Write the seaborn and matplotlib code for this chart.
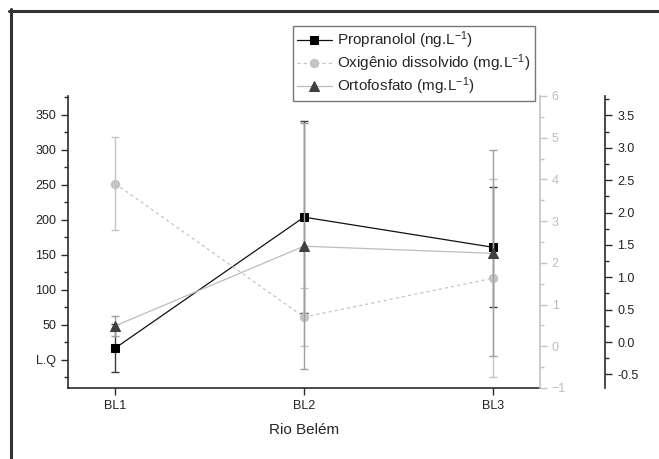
import matplotlib
matplotlib.use("Agg")
import matplotlib.pyplot as plt
from matplotlib.ticker import MultipleLocator, FixedLocator, FixedFormatter, FormatStrFormatter
from matplotlib.lines import Line2D
import seaborn as sns
import pandas as pd

# ---- data ----
sites = ["BL1", "BL2", "BL3"]
propranolol = [17, 204, 161]
propranolol_err = [34, 137, 86]
oxigenio = [3.9, 0.7, 1.63]
oxigenio_err = [1.12, 0.7, 2.37]
ortofosfato = [0.25, 1.48, 1.37]
ortofosfato_err = [0.15, 1.9, 1.59]

left_ticks = [0, 50, 100, 150, 200, 250, 300, 350]
left_labels = ["L.Q", "50", "100", "150", "200", "250", "300", "350"]

sns.set_style("ticks")
plt.rcParams["font.family"] = ["Liberation Sans", "DejaVu Sans"]
plt.rcParams["mathtext.fontset"] = "custom"
plt.rcParams["mathtext.rm"] = "Liberation Sans"
plt.rcParams["mathtext.it"] = "Liberation Sans:italic"

df = pd.DataFrame({"site": sites, "prop": propranolol, "oxi": oxigenio, "orto": ortofosfato})
pos = list(range(len(sites)))

W, H = 659, 459
fig = plt.figure(figsize=(W / 100, H / 100), dpi=100)
ax = fig.add_axes([68 / W, 1 - 388 / H, (540 - 68) / W, (388 - 96) / H])

dark = "#2b2b2b"
light = "#c4c4c4"
mid = "#9f9f9f"

# propranolol (left axis)
ax.errorbar(pos, propranolol, yerr=propranolol_err, fmt="none", ecolor="#3c3c3c",
            elinewidth=1.0, capsize=3, capthick=1.0, zorder=1)
sns.lineplot(data=df, x="site", y="prop", ax=ax, color="#111111", lw=0.9,
             marker="s", markersize=5.2, markeredgecolor="#000000", markerfacecolor="#000000",
             label="Propranolol (ng.L$^{-1}$)", legend=False, zorder=3)
ax.set_xlim(-0.25, 2.25)
ax.set_ylim(-40, 377)
ax.yaxis.set_major_locator(FixedLocator(left_ticks))
ax.yaxis.set_major_formatter(FixedFormatter(left_labels))
ax.yaxis.set_minor_locator(MultipleLocator(25))
ax.set_xticks(pos)
ax.set_xticklabels(sites)
ax.set_xlabel("Rio Belém", fontsize=11, labelpad=8)
ax.set_ylabel("")
for s in ["top", "right"]:
    ax.spines[s].set_visible(False)
for s in ["left", "bottom"]:
    ax.spines[s].set_color(dark)
    ax.spines[s].set_linewidth(1.2)
ax.tick_params(axis="both", which="major", direction="out", length=5, width=1,
               color=dark, labelsize=9, labelcolor="#222222")
ax.tick_params(axis="y", which="minor", direction="out", length=3, width=1, color=dark)
ax.patch.set_alpha(0)

# oxigenio (middle axis)
ax2 = ax.twinx()
ax2.errorbar(pos, oxigenio, yerr=oxigenio_err, fmt="none", ecolor=light,
             elinewidth=1.0, capsize=3, capthick=1.0, zorder=1)
sns.lineplot(data=df, x="site", y="oxi", ax=ax2, color=light, lw=0.9,
             linestyle=(0, (2.5, 2.5)), marker="o", markersize=6,
             markeredgecolor=light, markerfacecolor=light,
             label="Oxigênio dissolvido (mg.L$^{-1}$)", legend=False, zorder=3)
ax2.set_ylim(-1, 6)
ax2.yaxis.set_major_locator(MultipleLocator(1))
ax2.yaxis.set_minor_locator(MultipleLocator(0.5))
ax2.set_ylabel("")
for s in ["top", "left", "bottom"]:
    ax2.spines[s].set_visible(False)
ax2.spines["right"].set_color(light)
ax2.spines["right"].set_linewidth(1.2)
ax2.tick_params(axis="y", which="major", direction="out", length=5, width=1,
                color=light, labelsize=9, labelcolor="#bdbdbd")
ax2.tick_params(axis="y", which="minor", direction="out", length=3, width=1, color=light)
ax2.patch.set_alpha(0)

# ortofosfato (outer right axis)
ax3 = ax.twinx()
ax3.errorbar(pos, ortofosfato, yerr=ortofosfato_err, fmt="none", ecolor=mid,
             elinewidth=1.0, capsize=3, capthick=1.0, zorder=1)
sns.lineplot(data=df, x="site", y="orto", ax=ax3, color="#bcbcbc", lw=0.9,
             marker="^", markersize=6.5, markeredgecolor="#404040", markerfacecolor="#404040",
             label="Ortofosfato (mg.L$^{-1}$)", legend=False, zorder=3)
ax3.set_ylim(-0.71, 3.80)
ax3.yaxis.set_major_locator(MultipleLocator(0.5))
ax3.yaxis.set_major_formatter(FormatStrFormatter("%.1f"))
ax3.yaxis.set_minor_locator(MultipleLocator(0.25))
ax3.set_ylabel("")
for s in ["top", "left", "bottom"]:
    ax3.spines[s].set_visible(False)
ax3.spines["right"].set_position(("outward", 47))
ax3.spines["right"].set_color(dark)
ax3.spines["right"].set_linewidth(1.2)
ax3.tick_params(axis="y", which="major", direction="out", length=5, width=1,
                color=dark, labelsize=9, labelcolor="#222222")
ax3.tick_params(axis="y", which="minor", direction="out", length=3, width=1, color=dark)
ax3.patch.set_alpha(0)

# legend
handles = ax.get_lines()[-1:] + ax2.get_lines()[-1:] + ax3.get_lines()[-1:]
labels = [h.get_label() for h in handles]
leg = fig.legend(handles, labels, loc="upper left", bbox_to_anchor=(293 / W, 1 - 26 / H),
                 fontsize=11, frameon=True, fancybox=False, handlelength=2.3,
                 borderpad=0.25, labelspacing=0.08, handletextpad=0.35, borderaxespad=0)
leg.get_frame().set_edgecolor("#555555")
leg.get_frame().set_linewidth(1.0)
leg.set_zorder(10)

# page frame lines (left & top)
fig.add_artist(Line2D([10.5 / W, 10.5 / W], [0, 1 - 9 / H], transform=fig.transFigure,
                      color="#333333", lw=2.2))
fig.add_artist(Line2D([9 / W, 1], [1 - 10.5 / H, 1 - 10.5 / H], transform=fig.transFigure,
                      color="#333333", lw=2.2))

fig.savefig("out.png", dpi=100)
